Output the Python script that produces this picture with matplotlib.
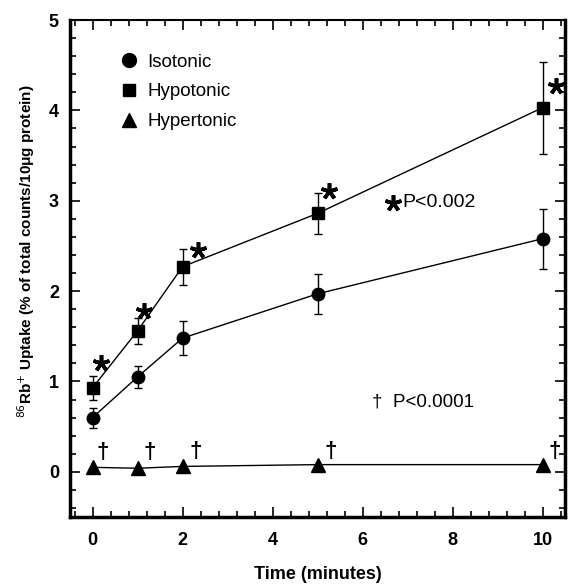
import numpy as np
from matplotlib import pyplot as plt
from matplotlib.ticker import MultipleLocator
from matplotlib.lines import Line2D

plt.rcParams['font.family'] = ['Liberation Sans', 'DejaVu Sans']

time = [0, 1, 2, 5, 10]
iso = [0.60, 1.05, 1.48, 1.97, 2.58]
iso_err = [0.11, 0.12, 0.19, 0.22, 0.33]
hypo = [0.93, 1.56, 2.27, 2.86, 4.03]
hypo_err = [0.13, 0.14, 0.20, 0.23, 0.51]
hyper = [0.05, 0.04, 0.06, 0.08, 0.08]

star_x = [0.18, 1.15, 2.35, 5.26, 10.29]
star_y = [1.21, 1.78, 2.45, 3.11, 4.27]
dagger_x = [0.22, 1.26, 2.30, 5.29, 10.27]
dagger_y = [0.21, 0.21, 0.22, 0.22, 0.22]

fig = plt.figure(figsize=(5.72, 5.88), dpi=100)
ax = fig.add_axes([0.1224, 0.1207, 0.8654, 0.8452])

ax.errorbar(time, iso, yerr=iso_err, color='k', lw=1, marker='o', ms=9,
            capsize=3, elinewidth=1, capthick=1)
ax.errorbar(time, hypo, yerr=hypo_err, color='k', lw=1, marker='s', ms=8.5,
            capsize=3, elinewidth=1, capthick=1)
ax.plot(time, hyper, color='k', lw=1, marker='^', ms=10)

# significance marks
ax.plot(star_x, star_y, ls='none', marker=(5, 2, 0), ms=12, mew=2.6, color='k')
for x, y in zip(dagger_x, dagger_y):
    ax.text(x, y, '†', fontsize=16, fontweight='bold', ha='center', va='center')

ax.plot([6.67], [2.98], ls='none', marker=(5, 2, 0), ms=12, mew=2.6, color='k')
ax.text(6.88, 2.98, 'P<0.002', fontsize=14, va='center')
ax.text(6.2, 0.77, '†  P<0.0001', fontsize=13.5, va='center')

handles = [Line2D([], [], color='k', marker='o', ms=10, ls='none'),
           Line2D([], [], color='k', marker='s', ms=9, ls='none'),
           Line2D([], [], color='k', marker='^', ms=10, ls='none')]
ax.legend(handles, ['Isotonic', 'Hypotonic', 'Hypertonic'], loc='upper left',
          bbox_to_anchor=(0.085, 0.948), frameon=False, fontsize=13.5,
          handlelength=1.0, handletextpad=0.5, labelspacing=0.68,
          borderaxespad=0)

ax.set_xlim(-0.5, 10.5)
ax.set_ylim(-0.5, 5)
ax.xaxis.set_major_locator(MultipleLocator(2))
ax.xaxis.set_minor_locator(MultipleLocator(0.4))
ax.yaxis.set_major_locator(MultipleLocator(1))
ax.yaxis.set_minor_locator(MultipleLocator(0.2))
ax.tick_params(which='both', direction='in', top=True, right=True, width=1.2)
ax.tick_params(which='major', length=7, labelsize=13)
ax.tick_params(axis='x', which='major', pad=11)
ax.tick_params(axis='y', which='major', pad=8)
ax.tick_params(which='minor', length=4)
for lab in ax.get_xticklabels() + ax.get_yticklabels():
    lab.set_fontweight('bold')

for side in ['left', 'bottom', 'right']:
    ax.spines[side].set_linewidth(2.5)
ax.spines['top'].set_linewidth(1.5)

ax.set_xlabel('Time (minutes)', fontsize=13, fontweight='bold')
ax.set_ylabel('$^{86}$Rb$^{+}$ Uptake (% of total counts/10\u03bcg protein)',
              fontsize=11, fontweight='bold')
ax.xaxis.set_label_coords(0.5, -0.098)
ax.yaxis.set_label_coords(-0.067, 0.535)

fig.savefig('out.png', dpi=100)
